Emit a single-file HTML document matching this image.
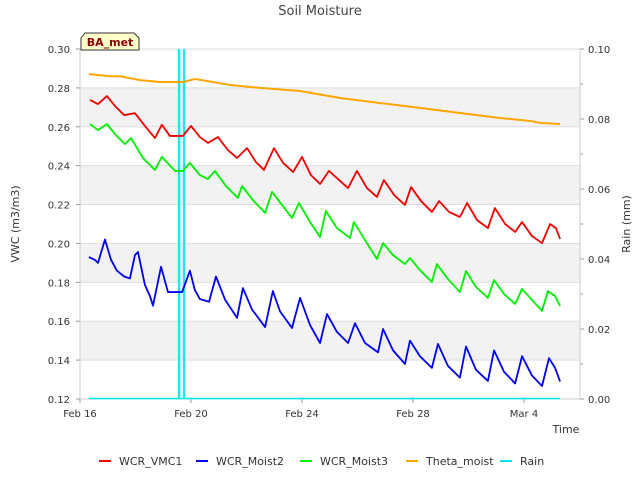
<!DOCTYPE html>
<html><head><meta charset="utf-8"><style>
body{margin:0;background:#fff;font-family:"Liberation Sans","DejaVu Sans",sans-serif}
svg text{font-family:"DejaVu Sans","Liberation Sans",sans-serif}
</style></head><body>
<svg id="c" width="640" height="480"></svg>
<script>
const vmc1Days=[0.36,0.65,0.97,1.26,1.59,1.98,2.34,2.70,2.95,3.24,3.71,4.00,4.32,4.61,4.97,5.33,5.66,6.02,6.34,6.63,6.99,7.32,7.68,8.00,8.32,8.65,8.97,9.66,9.98,10.34,10.70,10.95,11.32,11.71,11.93,12.29,12.68,12.94,13.30,13.69,13.95,14.31,14.70,14.95,15.32,15.68,15.93,16.29,16.65,16.94,17.15,17.30];
const vmc1Vals=[0.2738,0.2717,0.2758,0.2707,0.266,0.267,0.2604,0.2542,0.261,0.2553,0.2553,0.2604,0.2547,0.2517,0.2547,0.248,0.244,0.249,0.2419,0.2378,0.249,0.2414,0.2367,0.2445,0.2352,0.2306,0.2373,0.2285,0.2373,0.2285,0.2239,0.2326,0.2249,0.2198,0.229,0.2218,0.2162,0.2218,0.2162,0.2136,0.2208,0.212,0.2079,0.2182,0.21,0.2059,0.211,0.2038,0.2002,0.21,0.2079,0.2023];
const moist2Days=[0.32,0.54,0.65,0.90,1.12,1.33,1.59,1.80,1.98,2.09,2.34,2.52,2.63,2.92,3.17,3.68,3.96,4.14,4.32,4.65,4.90,5.23,5.66,5.87,6.20,6.67,6.95,7.21,7.64,7.93,8.29,8.65,8.90,9.26,9.66,9.91,10.27,10.74,10.92,11.28,11.71,11.89,12.25,12.68,12.90,13.26,13.69,13.91,14.27,14.70,14.92,15.28,15.68,15.93,16.29,16.65,16.90,17.12,17.30];
const moist2Vals=[0.193,0.1915,0.190,0.202,0.1915,0.186,0.183,0.182,0.194,0.1956,0.1786,0.173,0.168,0.188,0.175,0.175,0.186,0.176,0.1714,0.170,0.183,0.171,0.1617,0.177,0.166,0.157,0.1755,0.165,0.1565,0.172,0.158,0.1488,0.1637,0.1545,0.1488,0.159,0.1488,0.144,0.156,0.145,0.138,0.150,0.142,0.136,0.1483,0.137,0.131,0.147,0.135,0.1293,0.145,0.134,0.128,0.142,0.132,0.1267,0.141,0.136,0.129];
const moist3Days=[0.36,0.65,0.97,1.26,1.62,1.84,2.27,2.70,2.95,3.42,3.71,3.96,4.32,4.61,4.86,5.26,5.69,5.84,6.23,6.67,6.92,7.28,7.64,7.89,8.29,8.65,8.86,9.26,9.73,9.87,10.27,10.70,10.92,11.28,11.71,11.89,12.25,12.68,12.86,13.23,13.69,13.91,14.27,14.70,14.92,15.28,15.68,15.93,16.29,16.65,16.86,17.12,17.30];
const moist3Vals=[0.2614,0.2583,0.2614,0.2563,0.2511,0.2542,0.2439,0.2378,0.2445,0.2373,0.2373,0.2414,0.2352,0.2331,0.2373,0.2295,0.2234,0.2295,0.2223,0.2157,0.2265,0.2198,0.2131,0.2208,0.211,0.2033,0.2167,0.2079,0.2028,0.211,0.2018,0.192,0.2002,0.194,0.1894,0.1925,0.1863,0.1802,0.1894,0.1822,0.175,0.1858,0.1776,0.172,0.1812,0.174,0.1689,0.1766,0.1709,0.1653,0.1755,0.173,0.1678];
const thetaDays=[0.32,1.08,1.44,2.16,2.88,3.71,4.14,5.41,6.49,7.93,9.37,10.81,12.25,13.69,15.14,16.22,16.58,17.30];
const thetaVals=[0.2871,0.286,0.286,0.284,0.283,0.283,0.2846,0.2815,0.28,0.2784,0.2748,0.2722,0.2697,0.2671,0.2645,0.263,0.262,0.2614];
const rainDays=[0.32,3.57,3.75,17.30];
const rainVals=[0,0.15,0.15,0];
const yTicks=[0.12,0.14,0.16,0.18,0.20,0.22,0.24,0.26,0.28,0.30];
const y2Ticks=[0,0.02,0.04,0.06,0.08,0.10];
const xTickDays=[0,4,8,12,16];
const xTickLabels=["Feb 16","Feb 20","Feb 24","Feb 28","Mar 4"];

const L=80,R=580,T=49,B=399;
const xs=d=>L+d*27.75;
const ys=v=>B-(v-0.12)/0.18*(B-T);
const y2=v=>B-Math.min(v,0.1)/0.1*(B-T);
const svg=document.getElementById('c');
const NS='http://www.w3.org/2000/svg';
function mk(tag,at,txt){const e=document.createElementNS(NS,tag);for(const k in at)e.setAttribute(k,at[k]);if(txt!==undefined)e.textContent=txt;svg.appendChild(e);return e;}

let t=mk('text',{x:320,y:15,'font-size':13,fill:'#444','text-anchor':'middle'},'Soil Moisture');

let pa=mk('rect',{x:L,y:T,width:R-L,height:B-T,fill:'#fff'});

for(let i=0;i<yTicks.length-1;i++){
  if(i%2==1){let b=mk('rect',{x:L,y:ys(yTicks[i+1]),width:R-L,height:ys(yTicks[i])-ys(yTicks[i+1]),fill:'#f2f2f2'});
  }
}
yTicks.forEach(v=>{
  let g=mk('line',{x1:L,x2:R,y1:ys(v),y2:ys(v),stroke:'#ddd','stroke-width':1});
  
  let tl=mk('text',{x:L-10,y:ys(v)+4,'font-size':10,fill:'#333','text-anchor':'end'},v.toFixed(2));
  
  mk('line',{x1:L-4,x2:L,y1:ys(v),y2:ys(v),stroke:'#999'});
});
y2Ticks.forEach(v=>{
  let tl=mk('text',{x:R+8,y:y2(v)+4,'font-size':10,fill:'#333'},v.toFixed(2));
  
  mk('line',{x1:R,x2:R+4,y1:y2(v),y2:y2(v),stroke:'#999'});
  if(v<0.1)mk('line',{x1:R,x2:R+3,y1:y2(v+0.01),y2:y2(v+0.01),stroke:'#999'});
});
xTickDays.forEach((d,i)=>{
  mk('line',{x1:xs(d),x2:xs(d),y1:B,y2:B+4,stroke:'#999'});
  let tl=mk('text',{x:xs(d),y:B+18,'font-size':10,fill:'#333','text-anchor':'middle'},xTickLabels[i]);
  
});
mk('line',{x1:L,x2:L,y1:T,y2:B,stroke:'#ccc'});
mk('line',{x1:R,x2:R,y1:T,y2:B,stroke:'#ccc'});
mk('line',{x1:L,x2:R,y1:B,y2:B,stroke:'#ccc'});

function series(days,vals,color,name,w){
  const p=mk('polyline',{points:days.map((d,i)=>xs(d)+','+ys(vals[i])).join(' '),fill:'none',stroke:color,'stroke-width':w,'stroke-linejoin':'round'});
  
}
const rb=mk('line',{x1:xs(rainDays[0]),x2:xs(rainDays[rainDays.length-1]),y1:y2(0)-0.5,y2:y2(0)-0.5,stroke:'#00e5ee','stroke-width':1.5});

rainDays.forEach((d,i)=>{if(rainVals[i]>0){
  let r=mk('line',{x1:xs(d),x2:xs(d),y1:y2(0),y2:y2(rainVals[i]),stroke:'#00ffff','stroke-width':2.5,opacity:0.9});
  
  mk('line',{x1:xs(d),x2:xs(d),y1:y2(0),y2:y2(rainVals[i]),stroke:'#20d0e0','stroke-width':1});
}});
series(thetaDays,thetaVals,'#ffa500','theta-moist-line',2);
series(vmc1Days,vmc1Vals,'#ee0000','wcr-vmc1-line',1.8);
series(moist3Days,moist3Vals,'#00ee00','wcr-moist3-line',1.8);
series(moist2Days,moist2Vals,'#0000ee','wcr-moist2-line',1.8);

let yl=mk('text',{x:19,y:224,'font-size':11,fill:'#333','text-anchor':'middle',transform:'rotate(-90 19 224)'},'VWC (m3/m3)');

let yl2=mk('text',{x:630,y:224,'font-size':11,fill:'#333','text-anchor':'middle',transform:'rotate(-90 630 224)'},'Rain (mm)');

let xl=mk('text',{x:566,y:433,'font-size':11,fill:'#333','text-anchor':'middle'},'Time');


let bx=mk('path',{d:'M81,50 L81,38 L85,33 L134,33 L139,38 L139,50 Z',fill:'#ffffcc',stroke:'#333','stroke-width':1});

let bt=mk('text',{x:110,y:46,'font-size':11,'font-weight':'bold',fill:'#8b0000','text-anchor':'middle'},'BA_met');


const leg=[['WCR_VMC1','#ee0000',99],['WCR_Moist2','#0000ee',196],['WCR_Moist3','#00ee00',300],['Theta_moist','#ffa500',406],['Rain','#00e5ee',500]];
leg.forEach(l=>{
  let ln=mk('line',{x1:l[2],x2:l[2]+12,y1:461,y2:461,stroke:l[1],'stroke-width':2});
  
  let lt=mk('text',{x:l[2]+20,y:465,'font-size':11,fill:'#333'},l[0]);
  
});
</script>
</body></html>
